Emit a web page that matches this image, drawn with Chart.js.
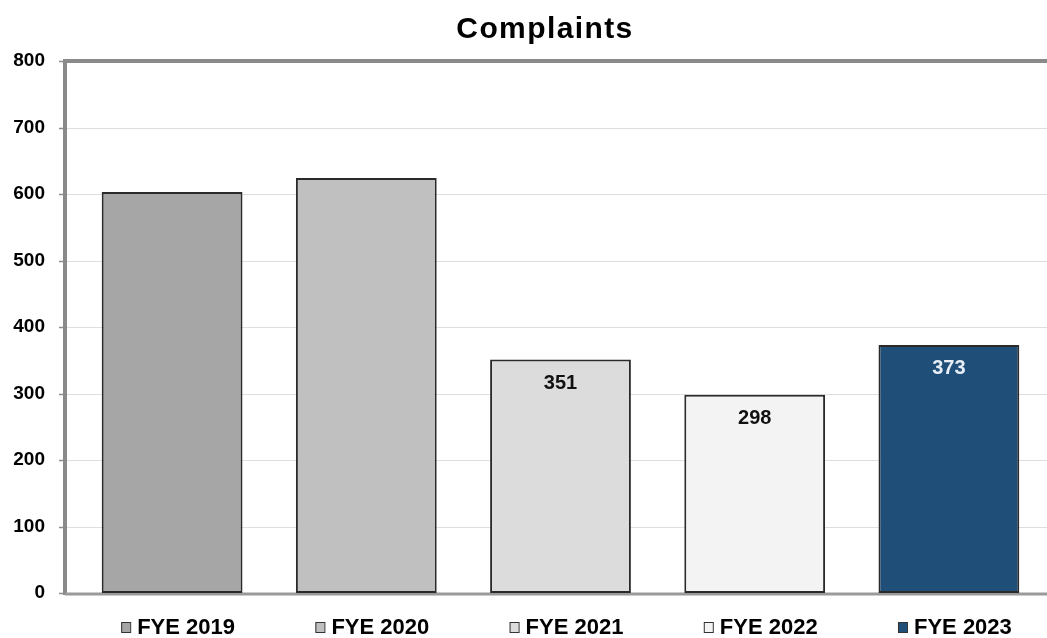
<!DOCTYPE html>
<html>
<head>
<meta charset="utf-8">
<script src="https://cdn.jsdelivr.net/npm/chart.js@4/dist/chart.umd.min.js"></script>
<style>
html,body{margin:0;padding:0;background:#fff;}
#wrap{width:1047px;height:638px;position:relative;}
</style>
</head>
<body>
<div id="wrap"><canvas id="c" width="1047" height="638"></canvas></div>
<script>
const chartTitle = "Complaints";
const categories = ["FYE 2019", "FYE 2020", "FYE 2021", "FYE 2022", "FYE 2023"];
const complaints = [603, 624, 351, 298, 373];
const showValue = [false, false, true, true, true];
const barColors = ["#a6a6a6", "#c0c0c0", "#dcdcdc", "#f3f3f3", "#1f4e79"];
const valueColors = ["#000", "#000", "#111", "#111", "#e8eef5"];
const yTicks = [0, 100, 200, 300, 400, 500, 600, 700, 800];

const FONT = "'Liberation Sans', Arial, sans-serif";

const framePlugin = {
  id: 'frame',
  beforeDatasetsDraw(chart) {
    const ctx = chart.ctx, ys = chart.scales.y, a = chart.chartArea;
    const lineX = a.left - 10;
    ctx.save();
    ctx.strokeStyle = '#dedede';
    ctx.lineWidth = 1;
    yTicks.forEach(v => {
      const y = Math.round(ys.getPixelForValue(v)) + 0.5;
      ctx.beginPath(); ctx.moveTo(lineX, y); ctx.lineTo(chart.width, y); ctx.stroke();
    });
    ctx.strokeStyle = '#8c8c8c';
    ctx.lineWidth = 1.5;
    yTicks.forEach(v => {
      const y = Math.round(ys.getPixelForValue(v)) + 0.5;
      ctx.beginPath(); ctx.moveTo(lineX - 6, y); ctx.lineTo(lineX, y); ctx.stroke();
    });
    ctx.strokeStyle = '#8a8a8a';
    ctx.lineWidth = 4;
    const top = ys.getPixelForValue(800), bot = ys.getPixelForValue(0);
    ctx.beginPath(); ctx.moveTo(lineX, bot + 2); ctx.lineTo(lineX, top); ctx.lineTo(chart.width, top); ctx.stroke();
    ctx.lineWidth = 3;
    ctx.strokeStyle = '#9a9a9a';
    ctx.beginPath(); ctx.moveTo(lineX, bot + 1); ctx.lineTo(chart.width, bot + 1); ctx.stroke();
    ctx.restore();
  },
  afterDatasetsDraw(chart) {
    const ctx = chart.ctx, meta = chart.getDatasetMeta(0), xs = chart.scales.x;
    ctx.save();
    ctx.font = "bold 20px " + FONT;
    ctx.textAlign = 'center';
    ctx.textBaseline = 'middle';
    meta.data.forEach((bar, i) => {
      if (!showValue[i]) return;
      ctx.fillStyle = valueColors[i];
      ctx.fillText(String(complaints[i]), bar.x, bar.y + 24);
    });
    ctx.font = "bold 22px " + FONT;
    categories.forEach((c, i) => {
      const cx = xs.getPixelForTick(i) + 14;
      const w = ctx.measureText(c).width;
      const sx = cx - w / 2 - 16;
      ctx.fillStyle = barColors[i];
      ctx.fillRect(sx, 622, 9, 10);
      ctx.strokeStyle = '#333';
      ctx.lineWidth = 1;
      ctx.strokeRect(sx + 0.5, 622.5, 9, 10);
    });
    ctx.fillStyle = '#000';
    ctx.font = "bold 30px " + FONT;
    try { ctx.letterSpacing = '1.4px'; } catch (e) {}
    ctx.textAlign = 'center';
    ctx.textBaseline = 'alphabetic';
    ctx.fillText(chartTitle, 545, 38);
    ctx.restore();
  }
};

new Chart(document.getElementById('c'), {
  type: 'bar',
  data: {
    labels: categories,
    datasets: [{
      label: chartTitle,
      data: complaints,
      backgroundColor: barColors,
      borderColor: '#2a2a2a',
      borderWidth: 2,
      borderSkipped: false,
      barPercentage: 0.725,
      categoryPercentage: 1.0
    }]
  },
  options: {
    responsive: false,
    animation: false,
    devicePixelRatio: 1,
    layout: { padding: { top: 61, right: 1, left: 0, bottom: 0 } },
    plugins: {
      legend: { display: false },
      title: { display: false },
      tooltip: { enabled: false }
    },
    scales: {
      x: {
        grid: { display: false, drawTicks: false },
        border: { display: false },
        afterFit(s) { s.height = 45; },
        ticks: {
          color: '#000',
          font: { family: FONT, size: 22, weight: 'bold' },
          padding: 22,
          labelOffset: 14,
          maxRotation: 0,
          autoSkip: false
        }
      },
      y: {
        min: 0, max: 800,
        grid: { display: false, drawTicks: false },
        border: { display: false },
        afterFit(s) { s.width = 75; },
        afterBuildTicks(s) { s.ticks = yTicks.map(v => ({ value: v })); },
        ticks: {
          color: '#000',
          font: { family: FONT, size: 19, weight: 'bold' },
          padding: 30
        }
      }
    }
  },
  plugins: [framePlugin]
});
</script>
</body>
</html>
